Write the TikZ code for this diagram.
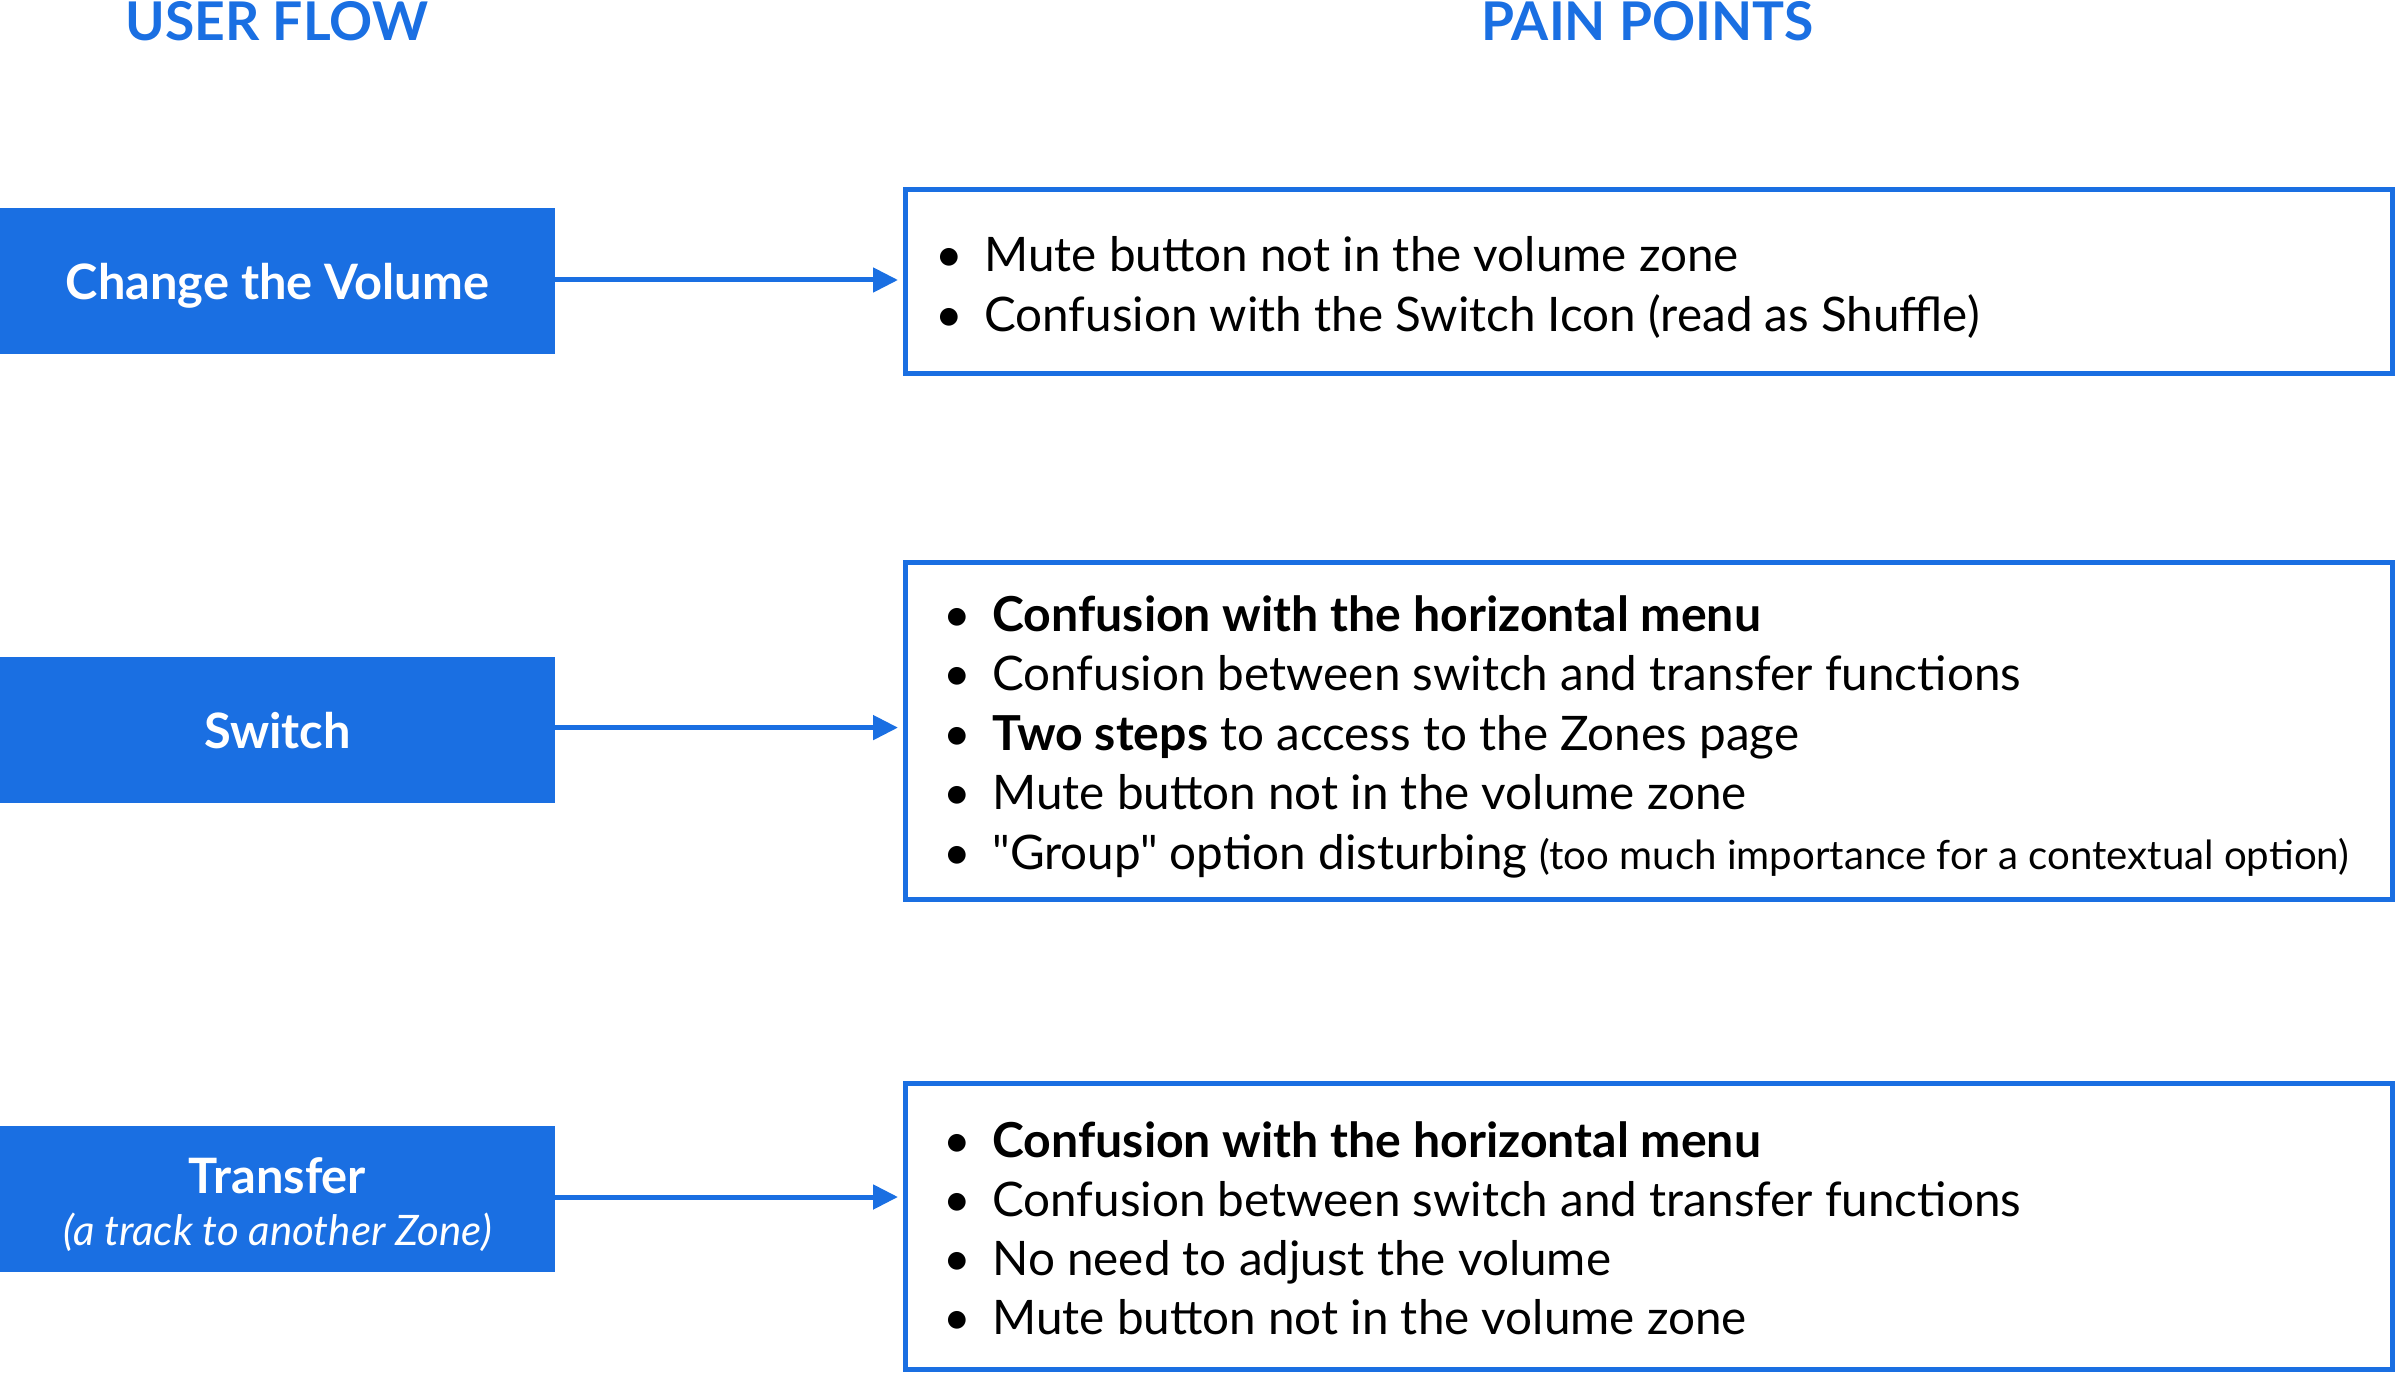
\documentclass[tikz,border=0pt]{standalone}
\usepackage{fontspec}
\setmainfont{Lato}[Ligatures=TeXOff]
\usetikzlibrary{arrows.meta}
\definecolor{uiblue}{HTML}{1A6FE2}
\newcommand\painbullet{\llap{\makebox[0pt]{•}\hspace{17.5pt}}}
\newcommand\strongpart[1]{{\fontsize{24.1}{30}\selectfont\bfseries #1}}
\begin{document}
\begin{tikzpicture}[x=0.5pt,y=-0.5pt,
  title/.style={font=\fontsize{26.7}{32}\selectfont\bfseries, text=uiblue, anchor=base, inner sep=0},
  flowbox/.style={fill=uiblue, draw=none, minimum width=277.5pt, minimum height=73pt, anchor=north west, inner sep=0, outer sep=0},
  flowtext/.style={font=\fontsize{24.4}{30}\selectfont\bfseries, text=white, anchor=base, inner sep=0},
  flownote/.style={font=\fontsize{21}{26}\selectfont\itshape, text=white, anchor=base, inner sep=0},
  painbox/.style={draw=uiblue, line width=2.5pt, minimum width=743.5pt, anchor=north west, inner sep=0},
  painline/.style={font=\fontsize{23.8}{30}\selectfont, anchor=base west, inner sep=0},
  link/.style={draw=uiblue, line width=2.5pt, -{Triangle[length=12.5pt,width=12pt]}, shorten >=2.5pt}
]
\useasboundingbox (0,0) rectangle (2396,1374);

% titles
\node[title] (tuser) at (277,41) {USER FLOW};
\node[title] (tpain) at (1647.5,41) {PAIN POINTS};

% user flow boxes
\node[flowbox] (l1) at (0,208) {};
\node[flowbox] (l2) at (0,657) {};
\node[flowbox] (l3) at (0,1126) {};
\node[flowtext] (l1t) at (277.5,300) {Change the Volume};
\node[flowtext] (l2t) at (277.5,748) {Switch};
\node[flowtext] (l3t) at (277.5,1193) {Transfer};
\node[flownote] (l3n) at (277.5,1245) {(a track to another Zone)};

% pain point boxes
\node[painbox, minimum height=92pt] (r1) at (903,187) {};
\node[painbox, minimum height=168.5pt] (r2) at (903,560) {};
\node[painbox, minimum height=143pt] (r3) at (903,1081) {};

% box 1 lines
\node[painline] (p11) at (984,272) {\painbullet Mute button not in the volume zone};
\node[painline] (p12) at (984,332) {\painbullet Confusion with the Switch Icon (read as Shuffle)};

% box 2 lines
\node[painline] (p21) at (992,631) {\painbullet \strongpart{Confusion with the horizontal menu}};
\node[painline] (p22) at (992,690) {\painbullet Confusion between switch and transfer functions};
\node[painline] (p23) at (992,750) {\painbullet \strongpart{Two steps} to access to the Zones page};
\node[painline] (p24) at (992,809) {\painbullet Mute button not in the volume zone};
\node[painline] (p25) at (992,869) {\painbullet "Group" option disturbing {\fontsize{20.1}{30}\selectfont (too much importance for a contextual option)}};

% box 3 lines
\node[painline] (p31) at (992,1157) {\painbullet \strongpart{Confusion with the horizontal menu}};
\node[painline] (p32) at (992,1216) {\painbullet Confusion between switch and transfer functions};
\node[painline] (p33) at (992,1275) {\painbullet No need to adjust the volume};
\node[painline] (p34) at (992,1334) {\painbullet Mute button not in the volume zone};

% connectors
\draw[link] ([yshift=0.5pt]l1.east) -- ([yshift=0.5pt]l1.east -| r1.west);
\draw[link] ([yshift=1.2pt]l2.east) -- ([yshift=1.2pt]l2.east -| r2.west);
\draw[link] ([yshift=1pt]l3.east) -- ([yshift=1pt]l3.east -| r3.west);
\end{tikzpicture}
\end{document}
